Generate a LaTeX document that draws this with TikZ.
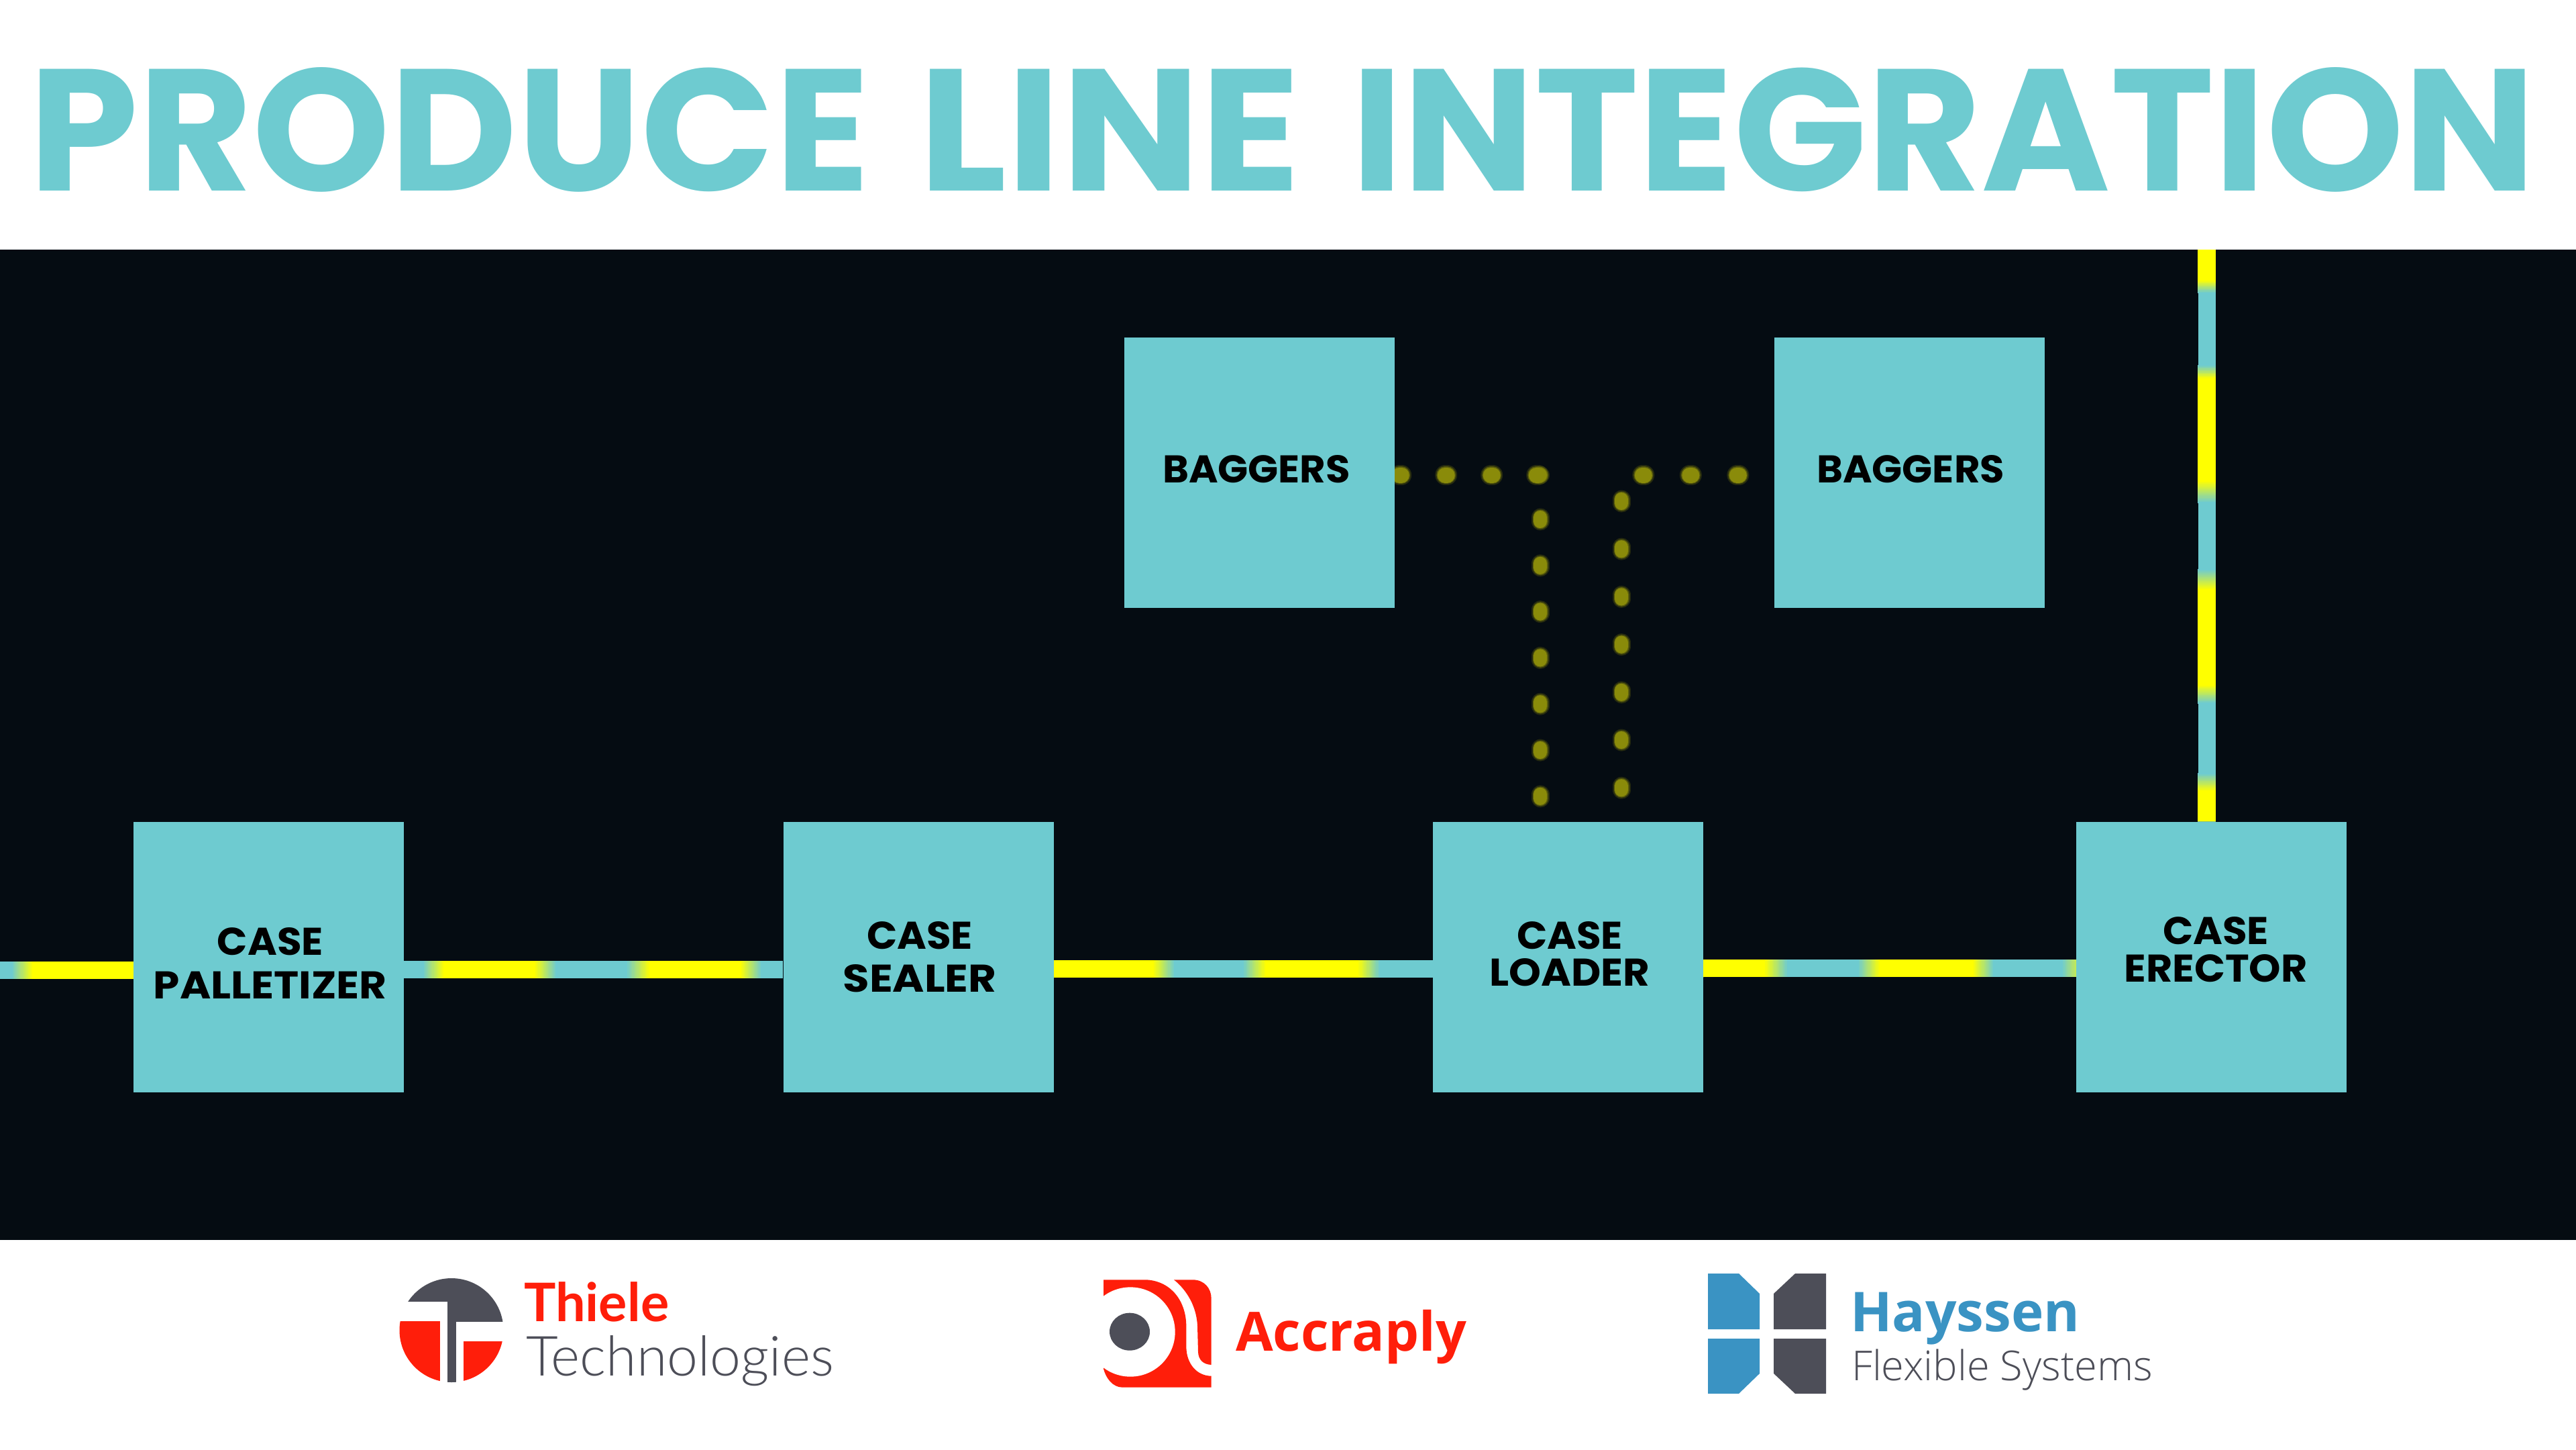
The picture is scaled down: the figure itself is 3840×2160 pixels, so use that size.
\documentclass[tikz,border=0pt]{standalone}
\usepackage{fontspec}
\setmainfont{Poppins}
\newfontfamily\latofont{Lato}
\newfontfamily\latolight{Lato Light}
\newfontfamily\opensansfont{Open Sans}
\newfontfamily\opensanslight{Open Sans Light}
\definecolor{aqua}{HTML}{6ECBD0}
\definecolor{ink}{HTML}{050C12}
\definecolor{glow}{HTML}{FFFF00}
\definecolor{olive}{HTML}{8A8B0A}
\definecolor{brandred}{HTML}{FF1E0A}
\definecolor{brandgrey}{HTML}{4D4E58}
\definecolor{brandblue}{HTML}{3A93C3}
\pgfdeclarelayer{backdrop}
\pgfdeclarelayer{wires}
\pgfsetlayers{backdrop,wires,main}
\tikzset{
  machine/.style={fill=aqua,draw=none,inner sep=0pt,minimum width=403pt,minimum height=403pt},
  machinetext/.style={text=black,align=center,inner sep=0pt,font=\fontsize{56}{#1}\selectfont\bfseries},
  beltline/.style={draw=aqua,line width=26pt},
  logotext/.style={inner sep=0pt,anchor=base west},
  titleword/.style={inner sep=0pt,anchor=base west,text=aqua},
}
% One line of a machine label, set to a fixed width and cap height
\newcommand{\lbl}[2]{\resizebox{#1pt}{41pt}{\vphantom{O}#2}}
% One word of the heading
\newcommand{\headword}[2]{\resizebox{#1pt}{184pt}{\fontsize{100}{100}\selectfont\bfseries\vphantom{O}#2}}
% Glowing stretch of a horizontal belt: teal to yellow, solid, yellow to teal
\newcommand{\glowx}[6]{%
  \foreach \k in {0,...,15}{%
    \pgfmathsetmacro{\p}{\k/15*100}%
    \pgfmathsetmacro{\q}{#1+(#2-#1)*\k/16}%
    \fill[glow!\p!aqua] (\q,#5) rectangle (#2,#6);
    \pgfmathsetmacro{\q}{#3+(#4-#3)*\k/16}%
    \pgfmathsetmacro{\p}{100-\k/15*100}%
    \fill[glow!\p!aqua] (\q,#5) rectangle (#4,#6);}%
  \fill[glow] (#2,#5) rectangle (#3,#6);}
% The same for the vertical belt
\newcommand{\glowy}[6]{%
  \foreach \k in {0,...,15}{%
    \pgfmathsetmacro{\p}{\k/15*100}%
    \pgfmathsetmacro{\q}{#1+(#2-#1)*\k/16}%
    \fill[glow!\p!aqua] (#5,\q) rectangle (#6,#2);
    \pgfmathsetmacro{\q}{#3+(#4-#3)*\k/16}%
    \pgfmathsetmacro{\p}{100-\k/15*100}%
    \fill[glow!\p!aqua] (#5,\q) rectangle (#6,#4);}%
  \fill[glow] (#5,#2) rectangle (#6,#3);}
% Soft dotted run: from, to, dash length, period, phase, dot width
\newcommand{\dotrun}[6]{%
  \pgfmathsetmacro{\dotgap}{#4-#3}%
  \draw[olive,opacity=.25,line cap=round,line width=#6pt+7pt,dash pattern=on #3pt off \dotgap pt,dash phase=#5pt] #1 -- #2;
  \draw[olive,opacity=.5,line cap=round,line width=#6pt+3pt,dash pattern=on #3pt off \dotgap pt,dash phase=#5pt] #1 -- #2;
  \draw[olive,line cap=round,line width=#6pt,dash pattern=on #3pt off \dotgap pt,dash phase=#5pt] #1 -- #2;}
\begin{document}
\begin{tikzpicture}[x=1pt,y=-1pt]
\useasboundingbox (0,0) rectangle (3840,2160);
\begin{pgfonlayer}{backdrop}
  \fill[white] (0,0) rectangle (3840,2160);
  \fill[ink] (0,372) rectangle (3840,1848);
\end{pgfonlayer}

% Heading
\node[titleword] (titleA) at (43,284) {\headword{1253}{PRODUCE}};
\node[titleword] (titleB) at (1369,284) {\headword{570}{LINE}};
\node[titleword] (titleC) at (2014,284) {\headword{1766}{INTEGRATION}};

% Machines
\node[machine] (pall) at (400,1426) {};
\node[machine] (seal) at (1369,1426) {};
\node[machine] (load) at (2337.5,1426) {};
\node[machine] (erec) at (3296.5,1426) {};
\node[machine] (bagL) at (1877,704.5) {};
\node[machine] (bagR) at (2846.5,704.5) {};

\node[machinetext=65] (tpall) at (403,1436) {\lbl{158}{CASE}\\\lbl{348}{PALLETIZER}};
\node[machinetext=64] (tseal) at (1371,1426) {\lbl{158}{CASE}\\\lbl{229}{SEALER}};
\node[machinetext=55] (tload) at (2340,1421.5) {\lbl{158}{CASE}\\\lbl{239}{LOADER}};
\node[machinetext=56] (terec) at (3303,1415) {\lbl{158}{CASE}\\\lbl{273}{ERECTOR}};
\node[machinetext=56] (tbagL) at (1873,699) {\lbl{280}{BAGGERS}};
\node[machinetext=56] (tbagR) at (2848,699) {\lbl{280}{BAGGERS}};

% Anchors for the belts and dotted runs
\coordinate (beltA) at (0,1446);
\coordinate (beltB) at (0,1445);
\coordinate (beltC) at (0,1444);
\coordinate (beltD) at (0,1443);
\coordinate (riser) at (3289.5,372);
\coordinate (cornerL) at (2296,708);
\coordinate (cornerR) at (2417,708);

\begin{pgfonlayer}{wires}
  % Belts
  \draw[beltline] (beltA) -- (beltA -| pall.west);
  \draw[beltline] (pall.east |- beltB) -- (seal.west |- beltB);
  \draw[beltline] (seal.east |- beltC) -- (load.west |- beltC);
  \draw[beltline] (load.east |- beltD) -- (erec.west |- beltD);
  \draw[beltline] (riser) -- (riser |- erec.north);

  % Yellow pulses travelling on the belts
  \glowx{17}{50}{199}{199}{1433}{1459}
  \glowx{630}{663}{796}{830}{1432}{1458}
  \glowx{933}{970}{1103}{1136}{1432}{1458}
  \glowx{1570}{1570}{1718}{1752}{1431}{1457}
  \glowx{1852}{1888}{2023}{2058}{1431}{1457}
  \glowx{2539}{2539}{2629}{2666}{1430}{1456}
  \glowx{2769}{2804}{2940}{2973}{1430}{1456}
  \glowx{3073}{3110}{3110}{3110}{1430}{1456}
  \glowy{372}{372}{417}{437}{3276}{3303}
  \glowy{544}{565}{716}{750}{3276}{3303}
  \glowy{848}{880}{1020}{1049}{3276}{3303}
  \glowy{1152}{1180}{1224}{1224}{3276}{3303}

  % Dotted feeds from the baggers into the case loader
  \dotrun{(bagL.east |- cornerL)}{(cornerL)}{3}{68}{60.5}{23}
  \dotrun{(bagR.west |- cornerR)}{(cornerR)}{3}{70.5}{18}{23}
  \dotrun{(cornerL)}{(cornerL |- load.north)}{6}{68.8}{5.8}{20}
  \dotrun{(cornerR)}{(cornerR |- load.north)}{6}{71.2}{35.2}{20}
\end{pgfonlayer}

% Thiele logo
\begin{scope}[yshift=-2pt]
  \clip (673,1980.5) circle (77.5);
  \fill[brandgrey] (590,1900) rectangle (760,1938);
  \fill[brandgrey] (667,1938) rectangle (760,1968);
  \fill[brandgrey] (667,1968) rectangle (680,2060);
  \fill[brandred] (590,1967) rectangle (656,2060);
  \fill[brandred] (691,1997) rectangle (760,2060);
\end{scope}
\node[logotext,text=brandred] (thiele) at (781,1969)
  {\resizebox{216pt}{!}{\fontsize{77}{77}\latofont\bfseries Thiele}};
\node[logotext,text=brandgrey] (technologies) at (784,2050)
  {\resizebox{459pt}{!}{\fontsize{77}{77}\latolight Technologies}};

% Accraply logo
\begin{scope}[shift={(1630,1890)},x=.33333pt,y=-.33333pt]
  \begin{scope}
    \clip (45,40) rectangle (540,540);
    \fill[brandred] (45,52) -- (240,52) .. controls (350,60) and (415,150) .. (415,260)
      -- (415,350) .. controls (415,430) and (465,482) .. (527,482) -- (527,533) -- (130,533)
      .. controls (85,533) and (55,490) .. (45,450) -- cycle;
    \fill[white] (165,285) circle [x radius=200,y radius=200];
  \end{scope}
  \fill[brandred] (360,52) -- (445,52) .. controls (495,52) and (527,90) .. (527,135)
    -- (527,432) .. controls (490,430) and (470,410) .. (468,375) -- (465,260)
    .. controls (462,175) and (420,100) .. (360,52) -- cycle;
  \fill[brandgrey] (162,284) circle [x radius=90,y radius=84];
\end{scope}
\node[logotext,text=brandred] (accraply) at (1842,2013)
  {\resizebox{344pt}{!}{\fontsize{85}{85}\opensansfont\bfseries Accraply}};

% Hayssen logo
\fill[brandblue] (2546,1898) -- (2592,1898) -- (2623,1928) -- (2623,1981) -- (2546,1981) -- cycle;
\fill[brandblue] (2546,1995) -- (2623,1995) -- (2623,2047) -- (2592,2077) -- (2546,2077) -- cycle;
\fill[brandgrey] (2722,1898) -- (2676,1898) -- (2644,1928) -- (2644,1981) -- (2722,1981) -- cycle;
\fill[brandgrey] (2722,1995) -- (2644,1995) -- (2644,2047) -- (2676,2077) -- (2722,2077) -- cycle;
\node[logotext,text=brandblue] (hayssen) at (2758,1984)
  {\resizebox{342pt}{!}{\fontsize{88}{88}\opensansfont\bfseries Hayssen}};
\node[logotext,text=brandgrey] (flexible) at (2760,2057)
  {\resizebox{449pt}{!}{\fontsize{60}{60}\opensanslight Flexible Systems}};
\end{tikzpicture}
\end{document}
